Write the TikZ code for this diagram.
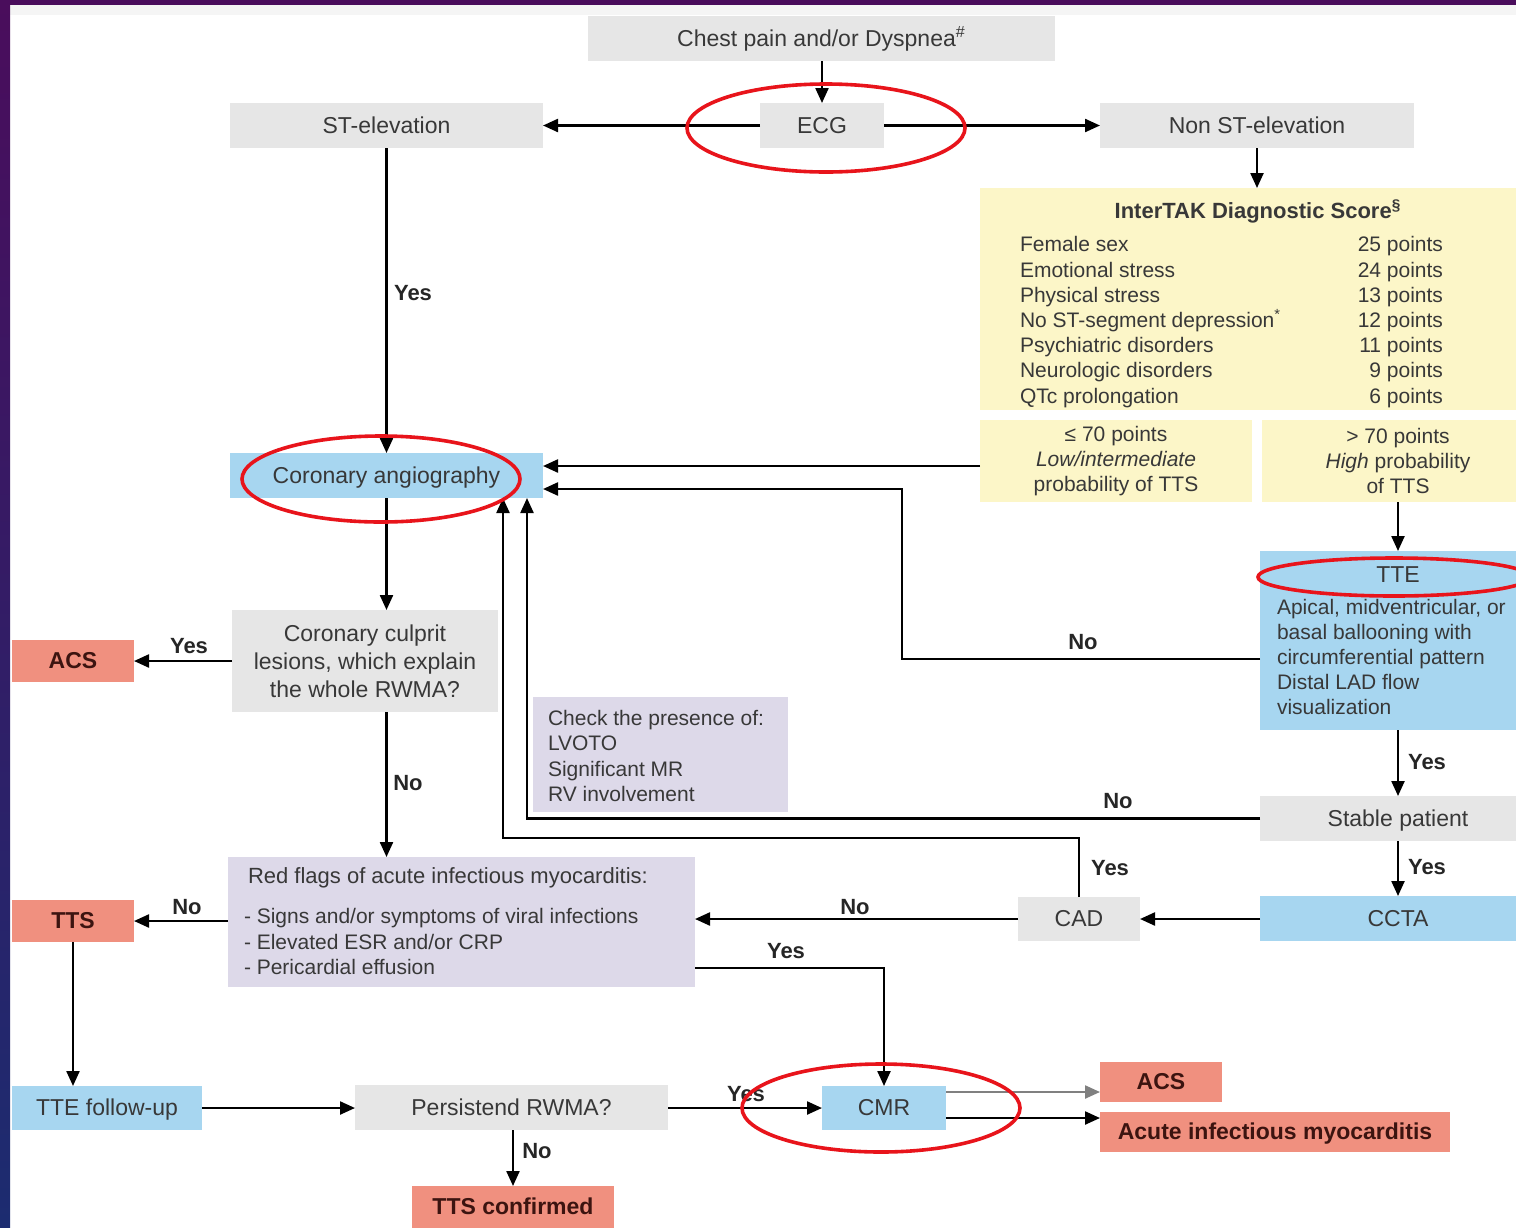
\documentclass[tikz,border=0pt]{standalone}
\usepackage{fontspec}
\setmainfont{Liberation Sans}
\usetikzlibrary{arrows.meta,calc}
\definecolor{bgpurple}{HTML}{4A0D5C}
\definecolor{bgblue}{HTML}{1C2C70}
\definecolor{boxgray}{HTML}{E6E6E6}
\definecolor{boxblue}{HTML}{A7D6F0}
\definecolor{boxyellow}{HTML}{FCF6C8}
\definecolor{boxlav}{HTML}{DDD9E9}
\definecolor{boxred}{HTML}{F0907F}
\definecolor{txt}{HTML}{383838}
\definecolor{redtxt}{HTML}{3C1410}
\definecolor{annot}{HTML}{E8141B}
\begin{document}
\begin{tikzpicture}[x=0.5pt,y=-0.5pt,
 box/.style={inner sep=0pt, outer sep=0pt, text=txt, font={\fontsize{11.5}{14}\selectfont}, align=center},
 one/.style={text height=7.6pt, text depth=0pt},
 gbox/.style={box, fill=boxgray},
 bbox/.style={box, fill=boxblue},
 ybox/.style={box, fill=boxyellow},
 lbox/.style={box, fill=boxlav},
 rbox/.style={box, fill=boxred, text=redtxt, font={\bfseries\fontsize{11.5}{14}\selectfont}},
 small/.style={font={\fontsize{10.5}{12.6}\selectfont}},
 arr/.style={line width=1.15pt, draw=black, -{Triangle[length=7.5pt,width=6.5pt]}},
 lbl/.style={font={\bfseries\fontsize{11}{13}\selectfont}, text=black!85, inner sep=0pt},
 ring/.style={draw=annot, line width=1.8pt}
]
\useasboundingbox (0,0) rectangle (1516,1227);
% background
\fill[white] (0,0) rectangle (1516,1227);
\fill[black!4] (10,5) rectangle (1516,15);
\shade[top color=bgpurple, bottom color=bgblue] (0,0) rectangle (10,1227);
\fill[bgpurple] (0,0) rectangle (1516,5);

% nodes
\node[gbox, one, minimum width=233.5pt, minimum height=22.5pt] (chest) at (821.5,38.5) {Chest pain and/or Dyspnea\textsuperscript{\#}};
\node[gbox, one, minimum width=62pt, minimum height=22.5pt] (ecg) at (822,125.5) {ECG};
\node[gbox, one, minimum width=156.5pt, minimum height=22.5pt] (stel) at (386.5,125.5) {ST-elevation};
\node[gbox, one, minimum width=157pt, minimum height=22.5pt] (nonst) at (1257,125.5) {Non ST-elevation};

\node[ybox, minimum width=278pt, minimum height=111pt] (inter) at (1258,299) {};
\node[box, font={\bfseries\fontsize{11}{13}\selectfont}] (intertitle) at (1258,211) {InterTAK Diagnostic Score\textsuperscript{§}};
\node[box, small, align=left, anchor=west] (intercrit) at (1020,322) {Female sex\\Emotional stress\\Physical stress\\No ST-segment depression\textsuperscript{*}\\Psychiatric disorders\\Neurologic disorders\\QTc prolongation};
\node[box, small, align=right, anchor=east] (interpts) at (1443,322) {25 points\\24 points\\13 points\\12 points\\11 points\\9 points\\6 points};

\node[ybox, small, minimum width=136pt, minimum height=41pt] (low) at (1116,461) {≤ 70 points\\\textit{Low/intermediate}\\probability of TTS};
\node[ybox, small, minimum width=136pt, minimum height=41pt] (high) at (1398,461) {> 70 points\\\textit{High} probability\\of TTS};

\node[bbox, one, minimum width=156.5pt, minimum height=22.5pt] (cang) at (386.5,475.5) {Coronary angiography};

\node[bbox, minimum width=138pt, minimum height=89.5pt] (tte) at (1398,640.5) {};
\node[box, one] (ttetitle) at (1398,575) {TTE};
\node[box, small, align=left, anchor=west] (ttetext) at (1277,657) {Apical, midventricular, or\\basal ballooning with\\circumferential pattern\\Distal LAD flow\\visualization};

\node[gbox, minimum width=133pt, minimum height=51pt] (culprit) at (365,661) {Coronary culprit\\lesions, which explain\\the whole RWMA?};
\node[rbox, one, minimum width=61pt, minimum height=21pt] (acsL) at (73,661) {ACS};

\node[lbox, minimum width=127.5pt, minimum height=57.5pt] (check) at (660.5,754.5) {};
\node[box, small, align=left, anchor=west] (checktext) at (548,756) {Check the presence of:\\LVOTO\\Significant MR\\RV involvement};

\node[gbox, one, minimum width=138pt, minimum height=22.5pt] (stable) at (1398,818.5) {Stable patient};

\node[lbox, minimum width=233.5pt, minimum height=65pt] (redflags) at (461.5,922) {};
\node[box, font={\fontsize{11}{13}\selectfont}, anchor=west] (rftitle) at (248,878) {Red flags of acute infectious myocarditis:};
\node[box, small, align=left, anchor=west] (rfitems) at (244,941.5) {- Signs and/or symptoms of viral infections\\- Elevated ESR and/or CRP\\- Pericardial effusion};

\node[rbox, one, minimum width=61pt, minimum height=21pt] (tts) at (73,921) {TTS};
\node[gbox, one, minimum width=61pt, minimum height=22pt] (cad) at (1079,919) {CAD};
\node[bbox, one, minimum width=138pt, minimum height=22.5pt] (ccta) at (1398,918.5) {CCTA};
\node[bbox, one, minimum width=95pt, minimum height=22pt] (ttefu) at (107,1108) {TTE follow-up};
\node[gbox, one, minimum width=156.5pt, minimum height=22.5pt] (persist) at (511.5,1107.5) {Persistend RWMA?};
\node[bbox, one, minimum width=62pt, minimum height=22pt] (cmr) at (884,1108) {CMR};
\node[rbox, one, minimum width=61pt, minimum height=20pt] (acsR) at (1161,1082) {ACS};
\node[rbox, one, minimum width=175pt, minimum height=20pt] (acute) at (1275,1132) {Acute infectious myocarditis};
\node[rbox, one, minimum width=101pt, minimum height=21pt] (ttsc) at (513,1207) {TTS confirmed};

% connectors
\draw[arr] (chest.south -| ecg) -- (ecg.north);
\draw[arr] (ecg.west) -- (stel.east);
\draw[arr] (ecg.east) -- (nonst.west);
\draw[arr] (stel.south) -- (cang.north);
\draw[arr] (nonst.south) -- (nonst.south |- inter.north);
\draw[arr] ($(low.west)+(0,5)$) -- ($(cang.east)+(0,-9.5)$);
\draw[arr] (high.south) -- (tte.north);
\coordinate (c8) at (902,489);
\draw[arr] ($(tte.west)+(0,18.5)$) -| (c8) -- ($(cang.east)+(0,13.5)$);
\draw[arr] (cang.south) -- (cang.south |- culprit.north);
\draw[arr] (culprit.west) -- (acsL.east);
\draw[arr] (culprit.south -| cang) -- (cang |- redflags.north);
\draw[arr] (tte.south) -- (stable.north);
\draw[arr] (stable.west) -| ($(cang.south east)+(-16,0)$);
\draw[arr] (stable.south) -- (ccta.north);
\draw[arr] (cad.east -| ccta.west) -- (cad.east);
\coordinate (c16) at (503,838);
\draw[arr] (cad.north) |- (c16) -- ($(cang.south east)+(-40,0)$);
\draw[arr] (cad.west) -- (cad.west -| redflags.east);
\draw[arr] (redflags.west |- tts) -- (tts.east);
\draw[arr] ($(redflags.east)+(0,46)$) -| (cmr.north);
\draw[arr] (tts.south) -- (tts.south |- ttefu.north);
\draw[arr] (ttefu.east) -- (ttefu.east -| persist.west);
\draw[arr] (cmr.west -| persist.east) -- (cmr.west);
\draw[arr] (persist.south -| ttsc) -- (ttsc.north);
\coordinate (a24) at ($(cmr.east)+(0,-16)$);
\draw[arr, draw=black!50] (a24) -- (a24 -| acsR.west);
\coordinate (a25) at ($(cmr.east)+(0,10)$);
\draw[arr] (a25) -- (a25 -| acute.west);

% labels
\node[lbl] (l4) at (413,293) {Yes};
\node[lbl] (l8) at (1083,642) {No};
\node[lbl] (l10) at (189,646) {Yes};
\node[lbl] (l11) at (408,783) {No};
\node[lbl] (l12) at (1427,762) {Yes};
\node[lbl] (l13) at (1118,801) {No};
\node[lbl] (l14) at (1427,867) {Yes};
\node[lbl] (l16) at (1110,868) {Yes};
\node[lbl] (l17) at (855,907) {No};
\node[lbl] (l18) at (187,907) {No};
\node[lbl] (l19) at (786,951) {Yes};
\node[lbl] (l22) at (746,1094) {Yes};
\node[lbl] (l23) at (537,1151) {No};

% red annotation ellipses
\draw[ring] (826,128) ellipse [x radius=69.5pt, y radius=22pt];
\draw[ring] (381,479) ellipse [x radius=69.5pt, y radius=21.5pt];
\draw[ring] (1394,577) ellipse [x radius=68pt, y radius=9.5pt];
\draw[ring] (881,1108) ellipse [x radius=69.5pt, y radius=22pt];
\end{tikzpicture}
\end{document}
